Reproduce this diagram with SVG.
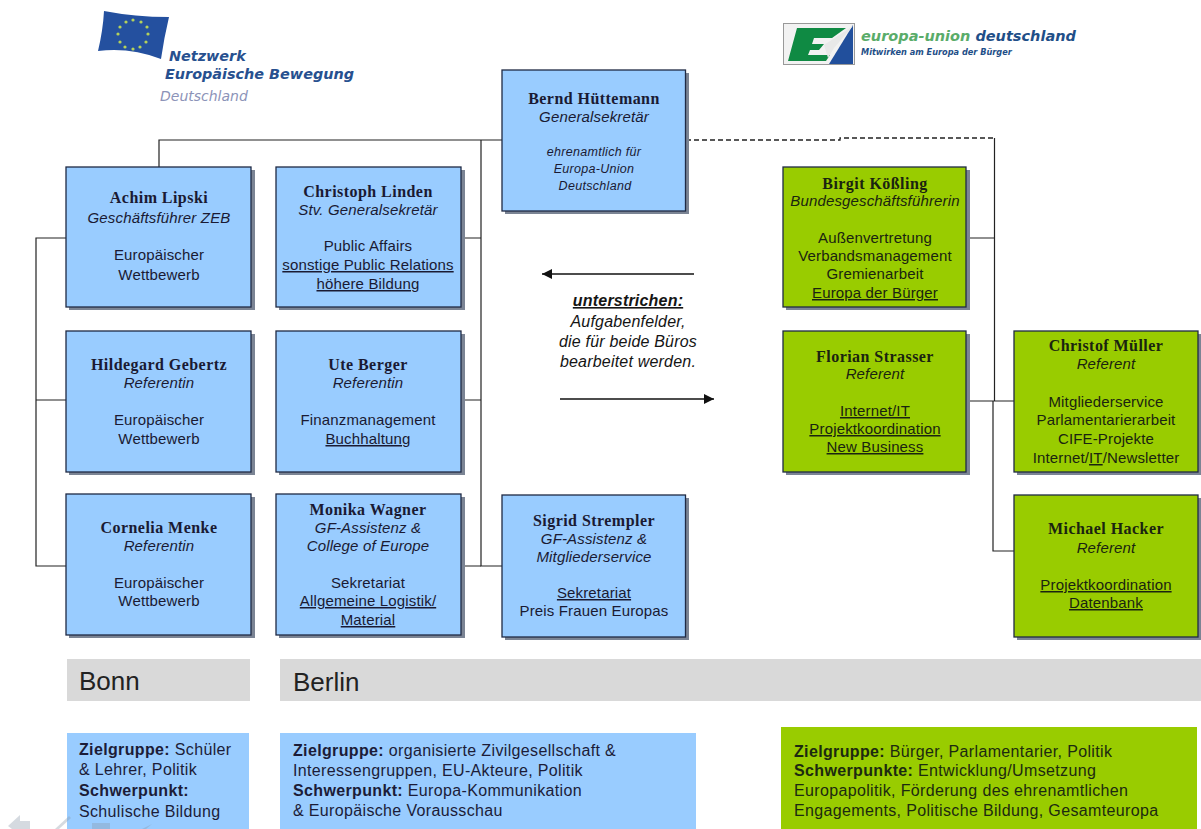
<svg xmlns="http://www.w3.org/2000/svg" width="1201" height="829" viewBox="0 0 1201 829">
<style>
text{font-family:"Liberation Sans",Arial,sans-serif;fill:#1a1a33;font-size:15px;letter-spacing:.15px}
.c text,text.c{text-anchor:middle}
.n{font-weight:bold;font-family:"Liberation Serif","Times New Roman",serif;font-size:16px;letter-spacing:.45px}
.i{font-style:italic}
.s{font-style:italic;font-size:12.5px;letter-spacing:.3px}
.u{text-decoration:underline}
.b{fill:#99ccff;stroke:#1f2a44;stroke-width:1.3}
.g{fill:#99cc00;stroke:#1f2a44;stroke-width:1.3}
.g ~ text{fill:#1a2410}
.sh{fill:#7b8494}
.l{fill:none;stroke:#222;stroke-width:1.2}
.a{fill:none;stroke:#111;stroke-width:1.4}
.d{fill:none;stroke:#222;stroke-width:1.3;stroke-dasharray:5 3}
.p{font-size:16px;letter-spacing:.35px;fill:#1c1c38}
.q{font-size:16px;letter-spacing:.35px;fill:#1c2a10}
.bd{font-weight:bold}
.m{font-size:16px;letter-spacing:.2px;fill:#151515}
</style>
<defs>
<marker id="ah" markerWidth="11" markerHeight="11" refX="10" refY="5" orient="auto" markerUnits="userSpaceOnUse"><path d="M0 0L10 5L0 10Z" fill="#111"/></marker>
</defs>
<rect width="1201" height="829" fill="#fff"/>

<g id="logo-neb">
<path d="M104 11Q135 17 169 17Q164 38 161 59Q130 47 98 51Q103 30 104 11Z" fill="#24509f"/>
<g fill="#b5d25a"><circle cx="133" cy="20" r="1.6"/><circle cx="141" cy="22" r="1.6"/><circle cx="147" cy="27" r="1.6"/><circle cx="148" cy="34" r="1.6"/><circle cx="146" cy="42" r="1.6"/><circle cx="140" cy="47" r="1.6"/><circle cx="133" cy="49" r="1.6"/><circle cx="125" cy="47" r="1.6"/><circle cx="120" cy="42" r="1.6"/><circle cx="118" cy="34" r="1.6"/><circle cx="120" cy="27" r="1.6"/><circle cx="126" cy="22" r="1.6"/></g>
<text x="169" y="61" style="font:italic bold 14.4px 'DejaVu Sans',sans-serif;fill:#27508f;letter-spacing:0">Netzwerk</text>
<text x="165" y="79" style="font:italic bold 14.4px 'DejaVu Sans',sans-serif;fill:#27508f;letter-spacing:0">Europäische Bewegung</text>
<text x="160" y="101" style="font:italic 14px 'DejaVu Sans',sans-serif;fill:#8c93b8;letter-spacing:0">Deutschland</text>
</g>

<g id="logo-eud">
<rect x="783.500" y="23.500" width="71" height="41" fill="#f2f2f2" stroke="#999"/>
<path d="M797 28H846L832 38H814L812 44H824L819 50H810L808 55H830L826 61H788Z" fill="#0f8a43"/>
<path d="M853 25V64H829Z" fill="#214f9c"/>
<path d="M853 26L824 45L828 58L834 48Z" fill="#e8e8e8"/>
<text x="861" y="41" style="font:italic bold 14.500px 'DejaVu Sans',sans-serif;fill:#5aac6a;letter-spacing:0">europa-union <tspan style="fill:#1f4f88">deutschland</tspan></text>
<text x="861" y="55" style="font:italic bold 8.200px 'DejaVu Sans',sans-serif;fill:#1f4f88;letter-spacing:0">Mitwirken am Europa der Bürger</text>
</g>

<g id="connectors">
<path class="l" d="M502 140H159V167"/>
<path class="l" d="M481 140V566H502"/>
<path class="l" d="M461 238H481M461 400H481M461 566H481"/>
<path class="l" d="M66 238H36V566H66M36 400H66"/>
<path class="d" d="M686 140L840 140V138H994"/>
<path class="l" d="M994.500 138V401"/>
<path class="l" d="M993 401V551H1014"/>
<path class="l" d="M966 238H994M966 401H1014"/>
<path class="a" d="M694 274H542" marker-end="url(#ah)"/>
<path class="a" d="M560 399H714" marker-end="url(#ah)"/>
</g>

<g id="bernd" class="c"><rect class="sh" x="505" y="73" width="184" height="141"/><rect class="b" x="502" y="70" width="183.500" height="141"/>
<text class="n" x="594" y="104">Bernd Hüttemann</text><text class="i" x="594" y="122">Generalsekretär</text>
<text class="s" x="594" y="156">ehrenamtlich für</text><text class="s" x="594" y="173">Europa-Union</text><text class="s" x="595" y="190">Deutschland</text></g>

<g id="achim" class="c"><rect class="sh" x="69" y="170" width="186" height="140"/><rect class="b" x="66" y="167" width="185" height="140"/>
<text class="n" x="159" y="203">Achim Lipski</text><text class="i" x="159" y="223">Geschäftsführer ZEB</text><text x="159" y="260">Europäischer</text><text x="159" y="280">Wettbewerb</text></g>

<g id="christoph" class="c"><rect class="sh" x="279" y="170" width="186" height="140"/><rect class="b" x="276" y="167" width="185" height="140"/>
<text class="n" x="368" y="197">Christoph Linden</text><text class="i" x="368" y="215">Stv. Generalsekretär</text><text x="368" y="251">Public Affairs</text><text class="u" x="368" y="270">sonstige Public Relations</text><text class="u" x="368" y="289">höhere Bildung</text></g>

<g id="hildegard" class="c"><rect class="sh" x="69" y="334" width="186" height="141"/><rect class="b" x="66" y="331" width="185" height="141"/>
<text class="n" x="159" y="370">Hildegard Gebertz</text><text class="i" x="159" y="388">Referentin</text><text x="159" y="425">Europäischer</text><text x="159" y="444">Wettbewerb</text></g>

<g id="ute" class="c"><rect class="sh" x="279" y="334" width="186" height="141"/><rect class="b" x="276" y="331" width="185" height="141"/>
<text class="n" x="368" y="370">Ute Berger</text><text class="i" x="368" y="388">Referentin</text><text x="368" y="425">Finanzmanagement</text><text class="u" x="368" y="444">Buchhaltung</text></g>

<g id="cornelia" class="c"><rect class="sh" x="69" y="497" width="186" height="141"/><rect class="b" x="66" y="494" width="185" height="141"/>
<text class="n" x="159" y="533">Cornelia Menke</text><text class="i" x="159" y="551">Referentin</text><text x="159" y="588">Europäischer</text><text x="159" y="606">Wettbewerb</text></g>

<g id="monika" class="c"><rect class="sh" x="279" y="497" width="186" height="141"/><rect class="b" x="276" y="494" width="185" height="141"/>
<text class="n" x="368" y="515">Monika Wagner</text><text class="i" x="368" y="533">GF-Assistenz &amp;</text><text class="i" x="368" y="551">College of Europe</text><text x="368" y="588">Sekretariat</text><text class="u" x="368" y="606">Allgemeine Logistik/</text><text class="u" x="368" y="625">Material</text></g>

<g id="sigrid" class="c"><rect class="sh" x="505" y="498" width="184" height="142"/><rect class="b" x="502" y="495" width="183.500" height="142"/>
<text class="n" x="594" y="526">Sigrid Strempler</text><text class="i" x="594" y="544">GF-Assistenz &amp;</text><text class="i" x="594" y="562">Mitgliederservice</text><text class="u" x="594" y="598">Sekretariat</text><text x="594" y="616">Preis Frauen Europas</text></g>

<g id="birgit" class="c"><rect class="sh" x="786" y="170" width="184" height="140"/><rect class="g" x="783" y="167" width="183" height="140"/>
<text class="n" x="875" y="189">Birgit Kößling</text><text class="i" x="875" y="206">Bundesgeschäftsführerin</text><text x="875" y="243">Außenvertretung</text><text x="875" y="261">Verbandsmanagement</text><text x="875" y="279">Gremienarbeit</text><text class="u" x="875" y="298">Europa der Bürger</text></g>

<g id="florian" class="c"><rect class="sh" x="786" y="334" width="184" height="141"/><rect class="g" x="783" y="331" width="183" height="141"/>
<text class="n" x="875" y="362">Florian Strasser</text><text class="i" x="875" y="379">Referent</text><text class="u" x="875" y="416">Internet/IT</text><text class="u" x="875" y="434">Projektkoordination</text><text class="u" x="875" y="452">New Business</text></g>

<g id="christof" class="c"><rect class="sh" x="1017" y="334" width="184" height="141"/><rect class="g" x="1014" y="331" width="184" height="141"/>
<text class="n" x="1106" y="351">Christof Müller</text><text class="i" x="1106" y="369">Referent</text><text x="1106" y="407">Mitgliederservice</text><text x="1106" y="425">Parlamentarierarbeit</text><text x="1106" y="444">CIFE-Projekte</text><text x="1106" y="463">Internet/<tspan class="u">IT</tspan>/Newsletter</text></g>

<g id="michael" class="c"><rect class="sh" x="1017" y="498" width="184" height="142"/><rect class="g" x="1014" y="495" width="184" height="142"/>
<text class="n" x="1106" y="534">Michael Hacker</text><text class="i" x="1106" y="553">Referent</text><text class="u" x="1106" y="590">Projektkoordination</text><text class="u" x="1106" y="608">Datenbank</text></g>

<g id="note" class="c">
<text x="628" y="306" class="i bd u m">unterstrichen:</text><text class="i m" x="628" y="327">Aufgabenfelder,</text><text class="i m" x="628" y="347">die für beide Büros</text><text class="i m" x="628" y="367">bearbeitet werden.</text>
</g>

<g id="bonn"><rect x="67" y="659" width="183" height="42" fill="#d9d9d9"/><text x="79" y="690" style="font-size:26px;fill:#222;letter-spacing:0">Bonn</text></g>
<g id="berlin"><rect x="280" y="659" width="921" height="42" fill="#d9d9d9"/><text x="293" y="691" style="font-size:26px;fill:#222;letter-spacing:0">Berlin</text></g>

<g id="zg-bonn"><rect x="67" y="733" width="182" height="96" fill="#99ccff"/>
<g id="nav" fill="#8a98a8" opacity=".35">
<path d="M8 826L20 815V821H30V829H12Z"/><path d="M55 829L69 816L71 818L59 829Z"/><path d="M92 829V823H110V829Z"/><path d="M130 829H146L152 824L142 829Z"/>
</g>
<text class="p" x="79" y="755"><tspan class="bd">Zielgruppe:</tspan> Schüler</text><text class="p" x="79" y="775">&amp; Lehrer, Politik</text><text class="p bd" x="79" y="796">Schwerpunkt:</text><text class="p" x="79" y="817">Schulische Bildung</text></g>

<g id="zg-berlin"><rect x="280" y="733" width="416" height="96" fill="#99ccff"/>
<text class="p" x="293" y="756"><tspan class="bd">Zielgruppe:</tspan> organisierte Zivilgesellschaft &amp;</text><text class="p" x="293" y="776">Interessengruppen, EU-Akteure, Politik</text><text class="p" x="293" y="796"><tspan class="bd">Schwerpunkt:</tspan> Europa-Kommunikation</text><text class="p" x="293" y="816">&amp; Europäische Vorausschau</text></g>

<g id="zg-eud"><rect x="781" y="727" width="416" height="102" fill="#99cc00"/>
<text class="q" x="794" y="757"><tspan class="bd">Zielgruppe:</tspan> Bürger, Parlamentarier, Politik</text><text class="q" x="794" y="776"><tspan class="bd">Schwerpunkte:</tspan> Entwicklung/Umsetzung</text><text class="q" x="794" y="796">Europapolitik, Förderung des ehrenamtlichen</text><text class="q" x="794" y="816">Engagements, Politische Bildung, Gesamteuropa</text></g>
</svg>
